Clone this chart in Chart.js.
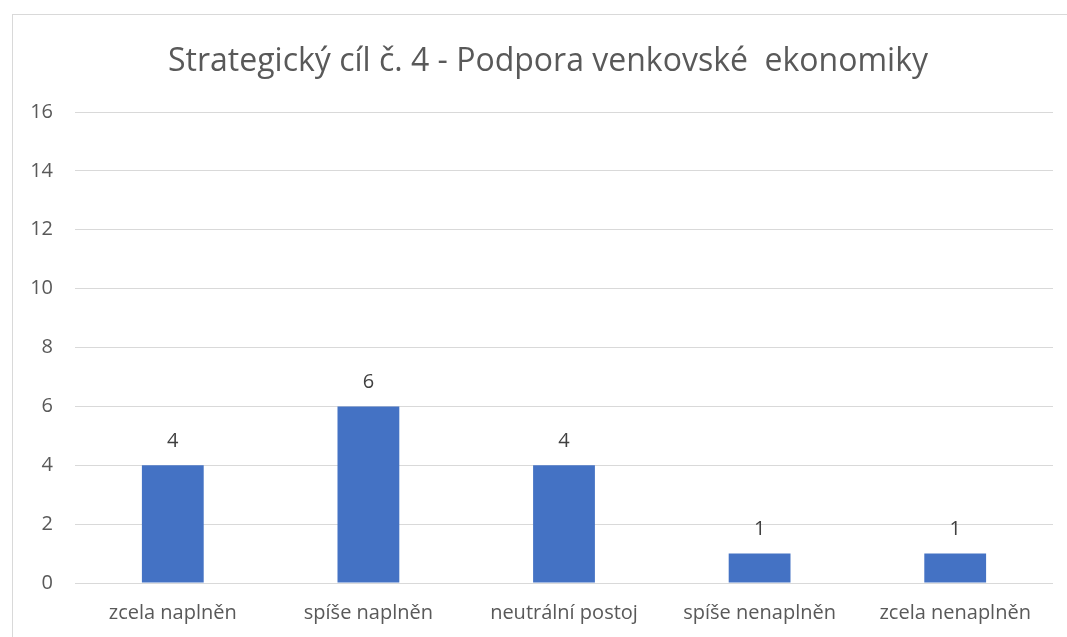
<!DOCTYPE html>
<html>
<head>
<meta charset="utf-8">
<script src="https://cdn.jsdelivr.net/npm/chart.js@4.4.0/dist/chart.umd.min.js"></script>
<style>
    html, body { margin: 0; padding: 0; background: #fff; }
    #wrap { width: 1067px; height: 637px; position: relative; }
</style>
</head>
<body>
<div id="wrap"><canvas id="chart"></canvas></div>
<script>
// ===== DATA =====
const chartTitle = 'Strategický cíl č. 4 - Podpora venkovské  ekonomiky';
const categories = ['zcela naplněn', 'spíše naplněn', 'neutrální postoj', 'spíše nenaplněn', 'zcela nenaplněn'];
const counts = [4, 6, 4, 1, 1];
const yTicks = [0, 2, 4, 6, 8, 10, 12, 14, 16];

const FONT = '"Open Sans", "Noto Sans", sans-serif';

// thin frame around the chart (only left/top visible, rest runs off the page)
// + the title, which sits a bit right of the page centre like in the original
const framePlugin = {
    id: 'frame',
    beforeDraw(chart) {
        const ctx = chart.ctx;
        ctx.save();
        ctx.strokeStyle = '#d9d9d9';
        ctx.lineWidth = 1;
        ctx.strokeRect(12.5, 14.5, 1200, 800);
        ctx.font = '32px ' + FONT;
        ctx.fillStyle = '#595959';
        ctx.textAlign = 'center';
        ctx.textBaseline = 'middle';
        ctx.fillText(chartTitle, 548, 62);
        ctx.restore();
    }
};

// value labels above each bar
const valueLabels = {
    id: 'valueLabels',
    afterDatasetsDraw(chart) {
        const ctx = chart.ctx;
        const meta = chart.getDatasetMeta(0);
        ctx.save();
        ctx.font = '20px ' + FONT;
        ctx.fillStyle = '#404040';
        ctx.textAlign = 'center';
        ctx.textBaseline = 'middle';
        meta.data.forEach((bar, i) => {
            ctx.fillText(String(counts[i]), bar.x, bar.y - 24);
        });
        ctx.restore();
    }
};

const ctx = document.getElementById('chart').getContext('2d');
new Chart(ctx, {
    type: 'bar',
    data: {
        labels: categories,
        datasets: [{
            data: counts,
            backgroundColor: '#4472c4',
            categoryPercentage: 1,
            barPercentage: 0.316
        }]
    },
    options: {
        responsive: true,
        maintainAspectRatio: false,
        animation: false,
        layout: { padding: { left: 0, right: 14, top: 112, bottom: 0 } },
        plugins: {
            legend: { display: false },
            tooltip: { enabled: false },
            title: { display: false }
        },
        scales: {
            x: {
                grid: { display: false, drawTicks: false },
                border: { display: false },
                ticks: {
                    color: '#595959',
                    font: { family: FONT, size: 20 },
                    padding: 18,
                    maxRotation: 0,
                    autoSkip: false
                },
                afterFit(scale) { scale.height = 54; }
            },
            y: {
                min: 0,
                max: 16,
                afterBuildTicks(scale) {
                    scale.ticks = yTicks.map(v => ({ value: v }));
                },
                grid: { color: '#d9d9d9', lineWidth: 1, drawTicks: false },
                border: { display: false },
                ticks: {
                    color: '#595959',
                    font: { family: FONT, size: 20 },
                    padding: 22
                },
                afterFit(scale) { scale.width = 75; }
            }
        }
    },
    plugins: [framePlugin, valueLabels]
});
</script>
</body>
</html>
